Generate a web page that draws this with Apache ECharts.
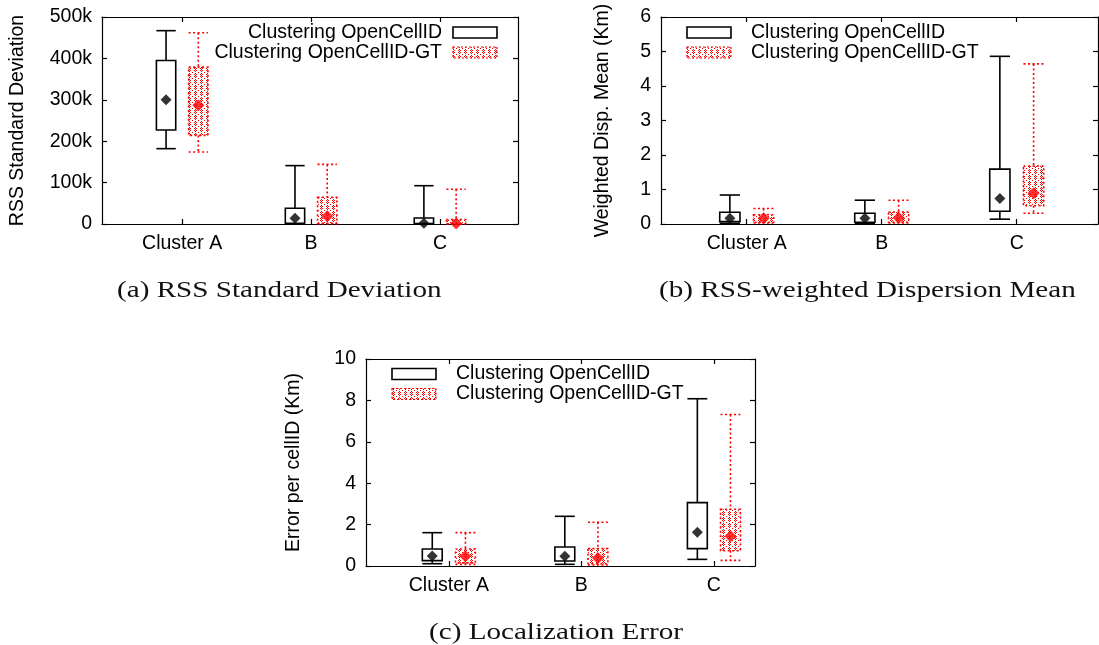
<!DOCTYPE html>
<html>
<head>
<meta charset="utf-8">
<script src="https://cdn.jsdelivr.net/npm/echarts@6/dist/echarts.min.js"></script>
<style>
  html, body { margin: 0; padding: 0; background: #fff; }
  #chart { width: 1099px; height: 645px; }
</style>
</head>
<body>
<div id="chart"></div>
<script>
// Cluster categories shared by all three panels
const categories = ['Cluster A', 'B', 'C'];

// Box statistics per cluster: [whisker low, Q1, Q3, whisker high]
const rssOcidBox = [[182000, 227000, 395000, 467000], [500, 1500, 38000, 141000], [300, 800, 14500, 92500]];
const rssOcidMean = [300000, 14000, 2000];
const rssGtBox = [[174000, 214000, 379000, 462000], [500, 1500, 64500, 144000], [300, 700, 11000, 84000]];
const rssGtMean = [287000, 19000, 1500];

const dispOcidBox = [[0.02, 0.07, 0.34, 0.84], [0.02, 0.05, 0.31, 0.69], [0.14, 0.37, 1.59, 4.86]];
const dispOcidMean = [0.17, 0.17, 0.74];
const dispGtBox = [[0.03, 0.05, 0.27, 0.45], [0.03, 0.05, 0.35, 0.69], [0.31, 0.53, 1.68, 4.64]];
const dispGtMean = [0.17, 0.18, 0.89];

const errOcidBox = [[0.11, 0.26, 0.82, 1.61], [0.08, 0.24, 0.92, 2.40], [0.32, 0.84, 3.06, 8.08]];
const errOcidMean = [0.48, 0.47, 1.63];
const errGtBox = [[0.08, 0.15, 0.82, 1.61], [0.05, 0.11, 0.84, 2.11], [0.27, 0.74, 2.74, 7.32]];
const errGtMean = [0.47, 0.39, 1.44];

// Tick labels of the value axes
const rssTicks = ['0', '100k', '200k', '300k', '400k', '500k'];
const dispTicks = ['0', '1', '2', '3', '4', '5', '6'];
const errTicks = ['0', '2', '4', '6', '8', '10'];

const seriesNames = ['Clustering OpenCellID', 'Clustering OpenCellID-GT'];
const captions = ['(a) RSS Standard Deviation', '(b) RSS-weighted Dispersion Mean', '(c) Localization Error'];
const axisTitles = ['RSS Standard Deviation', 'Weighted Disp. Mean (Km)', 'Error per cellID (Km)'];

const SANS = '"Liberation Sans", Arial, Helvetica, sans-serif';
const SERIF = '"Liberation Serif", "Times New Roman", serif';
const FS = 19.5;
const RED = '#ff0000';
const BOX_W = 0.15;
const OFFSET = 0.125;

// Red dotted lattice used as the fill of the GT boxes
function makeHatch() {
  const n = 12;
  const c = document.createElement('canvas');
  c.width = n; c.height = n;
  const g = c.getContext('2d');
  g.fillStyle = RED;
  for (let y = 0; y < n; y++) {
    for (let x = 0; x < n; x++) {
      const diag = ((x + y) % 6 === 0 || (x - y + n) % 6 === 0) && x % 2 === 0;
      const dot = (x % 6 === 3) && (y % 2 === 1);
      if (diag || dot) g.fillRect(x, y, 1, 1);
    }
  }
  return { image: c, repeat: 'repeat' };
}
const hatch = makeHatch();

function boxRenderer(offset, gt) {
  return function (params, api) {
    const x = api.value(0) + offset;
    const pLo = api.coord([x, api.value(1)]);
    const pQ1 = api.coord([x, api.value(2)]);
    const pQ3 = api.coord([x, api.value(3)]);
    const pHi = api.coord([x, api.value(4)]);
    const half = api.size([BOX_W, 0])[0] / 2;
    const line = gt
      ? { stroke: RED, lineWidth: 1.6, lineDash: [2, 2.5] }
      : { stroke: '#000', lineWidth: 1.6 };
    const cx = pLo[0];
    return {
      type: 'group',
      children: [
        { type: 'line', shape: { x1: cx, y1: pHi[1], x2: cx, y2: pQ3[1] }, style: line },
        { type: 'line', shape: { x1: cx, y1: pQ1[1], x2: cx, y2: pLo[1] }, style: line },
        { type: 'line', shape: { x1: cx - half, y1: pHi[1], x2: cx + half, y2: pHi[1] }, style: line },
        { type: 'line', shape: { x1: cx - half, y1: pLo[1], x2: cx + half, y2: pLo[1] }, style: line },
        {
          type: 'rect',
          shape: { x: cx - half, y: pQ3[1], width: half * 2, height: pQ1[1] - pQ3[1] },
          style: Object.assign({ fill: gt ? hatch : '#fff' }, line)
        }
      ]
    };
  };
}

const panels = [
  { grid: { left: 102, top: 17, width: 416, height: 207 }, xMin: -0.622, xMax: 2.605,
    yMax: 500000, step: 100000, ticks: rssTicks, nameGap: 74,
    ocid: rssOcidBox, ocidMean: rssOcidMean, gt: rssGtBox, gtMean: rssGtMean },
  { grid: { left: 661, top: 17, width: 437, height: 207 }, xMin: -0.635, xMax: 2.602,
    yMax: 6, step: 1, ticks: dispTicks, nameGap: 48,
    ocid: dispOcidBox, ocidMean: dispOcidMean, gt: dispGtBox, gtMean: dispGtMean },
  { grid: { left: 366, top: 359, width: 389, height: 207 }, xMin: -0.625, xMax: 2.31,
    yMax: 10, step: 2, ticks: errTicks, nameGap: 62,
    ocid: errOcidBox, ocidMean: errOcidMean, gt: errGtBox, gtMean: errGtMean }
];

const axisLine = { show: true, onZero: false, lineStyle: { color: '#000', width: 1.2 } };
const tick = { show: true, inside: true, length: 5, lineStyle: { color: '#000', width: 1.2 } };

const grids = [], xAxes = [], yAxes = [], series = [];
panels.forEach((p, k) => {
  grids.push(Object.assign({ containLabel: false }, p.grid));
  const xBase = { gridIndex: k, type: 'value', min: p.xMin, max: p.xMax, splitLine: { show: false }, axisLine: axisLine };
  xAxes.push(Object.assign({}, xBase, {
    position: 'bottom',
    axisTick: Object.assign({ customValues: [0, 1, 2] }, tick),
    axisLabel: { customValues: [0, 1, 2], formatter: v => categories[Math.round(v)], color: '#000', fontSize: FS, fontFamily: SANS, margin: 10 }
  }));
  xAxes.push(Object.assign({}, xBase, {
    position: 'top',
    axisTick: Object.assign({ customValues: [0, 1, 2] }, tick),
    axisLabel: { show: false }
  }));
  const yBase = { gridIndex: k, type: 'value', min: 0, max: p.yMax, interval: p.step, splitLine: { show: false }, axisLine: axisLine, axisTick: tick };
  yAxes.push(Object.assign({}, yBase, {
    position: 'left',
    name: axisTitles[k], nameLocation: 'middle', nameGap: p.nameGap,
    nameTextStyle: { color: '#000', fontSize: FS, fontFamily: SANS },
    axisLabel: { formatter: v => p.ticks[Math.round(v / p.step)], color: '#000', fontSize: FS, fontFamily: SANS, margin: 10 }
  }));
  yAxes.push(Object.assign({}, yBase, { position: 'right', axisLabel: { show: false } }));

  const xi = k * 2, yi = k * 2;
  const rows = box => box.map((b, i) => [i].concat(b));
  series.push({
    type: 'custom', name: seriesNames[0], xAxisIndex: xi, yAxisIndex: yi,
    renderItem: boxRenderer(-OFFSET, false), data: rows(p.ocid),
    encode: { x: 0, y: [1, 2, 3, 4] }, z: 2
  });
  series.push({
    type: 'custom', name: seriesNames[1], xAxisIndex: xi, yAxisIndex: yi,
    renderItem: boxRenderer(OFFSET, true), data: rows(p.gt),
    encode: { x: 0, y: [1, 2, 3, 4] }, z: 2
  });
  series.push({
    type: 'scatter', xAxisIndex: xi, yAxisIndex: yi, symbol: 'diamond', symbolSize: 11,
    itemStyle: { color: '#000' }, data: p.ocidMean.map((m, i) => [i - OFFSET, m]), z: 3, silent: true
  });
  series.push({
    type: 'scatter', xAxisIndex: xi, yAxisIndex: yi, symbol: 'diamond', symbolSize: 12,
    itemStyle: { color: RED }, data: p.gtMean.map((m, i) => [i + OFFSET, m]), z: 3, silent: true
  });
});

// Legend keys and sub-figure captions
function legendBlock(sampleX, textX, y1, y2, align) {
  const w = 44, h = 11;
  return [
    { type: 'rect', shape: { x: sampleX, y: y1 - h / 2, width: w, height: h }, style: { fill: '#fff', stroke: '#000', lineWidth: 1.6 } },
    { type: 'rect', shape: { x: sampleX, y: y2 - h / 2, width: w, height: h }, style: { fill: hatch, stroke: RED, lineWidth: 1.2, lineDash: [2, 2] } },
    { type: 'text', x: textX, y: y1, style: { text: seriesNames[0], font: FS + 'px ' + SANS, fill: '#000', align: align, verticalAlign: 'middle' } },
    { type: 'text', x: textX, y: y2, style: { text: seriesNames[1], font: FS + 'px ' + SANS, fill: '#000', align: align, verticalAlign: 'middle' } }
  ];
}
function caption(text, x, y) {
  return { type: 'text', x: x, y: y, scaleX: 1.24, style: { text: text, font: '23.5px ' + SERIF, fill: '#111', align: 'left', verticalAlign: 'middle' } };
}

const graphics = [].concat(
  legendBlock(453, 442, 32.5, 52.5, 'right'),
  legendBlock(687, 751, 32.5, 52.5, 'left'),
  legendBlock(392, 456, 374, 394, 'left'),
  [caption(captions[0], 117, 291), caption(captions[1], 659, 291), caption(captions[2], 429, 633)]
);

const chart = echarts.init(document.getElementById('chart'), null, { renderer: 'canvas' });
chart.setOption({
  backgroundColor: '#fff',
  animation: false,
  grid: grids,
  xAxis: xAxes,
  yAxis: yAxes,
  series: series,
  graphic: graphics
});
</script>
</body>
</html>
